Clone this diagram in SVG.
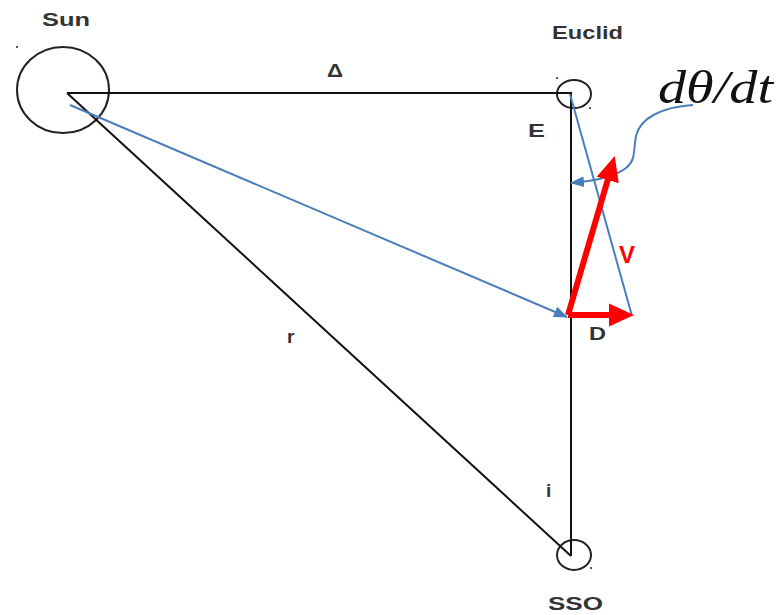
<svg xmlns="http://www.w3.org/2000/svg" width="779" height="615" viewBox="0 0 779 615">
<style>
.lbl{font-family:"Liberation Sans",Arial,sans-serif;font-weight:bold;fill:#333;font-size:19px}
.body{fill:none;stroke:#222;stroke-width:2}
.dot{fill:#222}
.blk{stroke:#111;stroke-width:2;fill:none}
.blue{stroke:#4a7ebb;stroke-width:2;fill:none}
.red{stroke:#ff0000;stroke-width:6;fill:none}
</style>
<defs>
<marker id="bh" viewBox="0 -6 14 12" markerWidth="14" markerHeight="12" refX="13" refY="0" orient="auto" markerUnits="userSpaceOnUse">
<path d="M0,-5.5 L14,0 L0,5.5 z" fill="#4a7ebb"/>
</marker>
<marker id="rh" viewBox="0 -12 25 24" markerWidth="25" markerHeight="24" refX="1" refY="0" orient="auto" markerUnits="userSpaceOnUse">
<path d="M0,-11.5 L25,0 L0,11.5 z" fill="#ff0000"/>
</marker>
</defs>
<rect width="779" height="615" fill="#fff"/>
<g id="sun">
<ellipse class="body" cx="63" cy="90" rx="46" ry="43"/>
<circle class="dot" cx="17" cy="47" r="1"/>
<text class="lbl" x="42" y="26" textLength="48" lengthAdjust="spacingAndGlyphs">Sun</text>
</g>
<g id="euclid">
<ellipse class="body" cx="574" cy="94" rx="17" ry="14"/>
<circle class="dot" cx="557" cy="78" r="1"/>
<circle class="dot" cx="590" cy="108" r="1"/>
<text class="lbl" x="552" y="39" textLength="71" lengthAdjust="spacingAndGlyphs">Euclid</text>
</g>
<g id="sso">
<ellipse class="body" cx="574" cy="555" rx="17" ry="15"/>
<circle class="dot" cx="591" cy="568" r="1"/>
<text class="lbl" x="548" y="610" textLength="55" lengthAdjust="spacingAndGlyphs">SSO</text>
</g>
<g id="connectors">
<line class="blk" x1="67" y1="93" x2="572" y2="93"/>
<line class="blk" x1="67" y1="93" x2="571" y2="556"/>
<line class="blk" x1="571" y1="93" x2="571" y2="556"/>
<line class="blue" x1="70" y1="105" x2="567" y2="317" marker-end="url(#bh)"/>
<line class="blue" x1="570" y1="94" x2="632" y2="316"/>
<path class="blue" d="M693,105 C662,107 640,118 636,136 C633,152 636,160 626,168 C613,178 592,181 571,183" marker-end="url(#bh)"/>
<line class="red" x1="568" y1="315" x2="610" y2="315" marker-end="url(#rh)"/>
<line class="red" x1="568" y1="315" x2="608" y2="179" marker-end="url(#rh)"/>
</g>
<g id="labels">
<text class="lbl" x="327" y="77" font-size="17" textLength="16" lengthAdjust="spacingAndGlyphs">Δ</text>
<text class="lbl" x="528" y="137" textLength="17" lengthAdjust="spacingAndGlyphs">E</text>
<text class="lbl" x="287" y="343">r</text>
<text class="lbl" x="589" y="340" textLength="17" lengthAdjust="spacingAndGlyphs">D</text>
<text class="lbl" x="546" y="497">i</text>
<text x="619" y="263" style="font-family:'Liberation Sans',Arial,sans-serif;font-weight:bold;font-size:24px;fill:#ff0000">V</text>
<text x="658" y="103" style="font-family:'Liberation Serif','Times New Roman',serif;font-style:italic;font-size:46px;fill:#111" textLength="115" lengthAdjust="spacingAndGlyphs">dθ/dt</text>
</g>
</svg>
